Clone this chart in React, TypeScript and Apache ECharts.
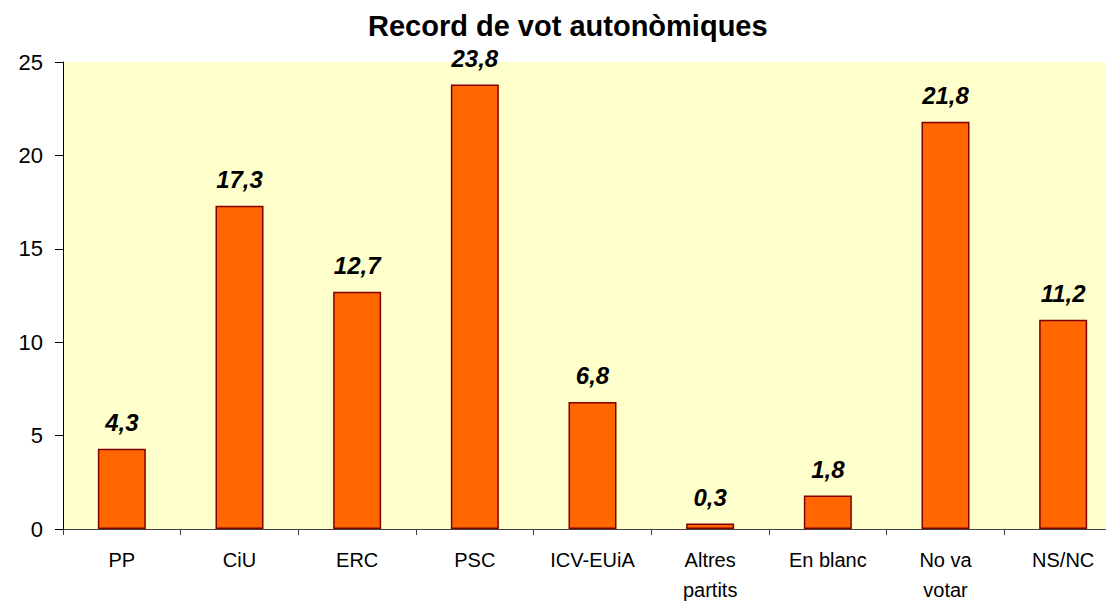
import React, { useEffect, useRef } from "react";
import * as echarts from "echarts";

const title = "Record de vot autonòmiques";
const categories = ["PP", "CiU", "ERC", "PSC", "ICV-EUiA", "Altres\npartits", "En blanc", "No va\nvotar", "NS/NC"];
const values = [4.3, 17.3, 12.7, 23.8, 6.8, 0.3, 1.8, 21.8, 11.2];
const yTicks = { min: 0, max: 25, interval: 5 };

export default function App() {
  const ref = useRef<HTMLDivElement>(null);
  useEffect(() => {
    const chart = echarts.init(ref.current!, null, { renderer: "svg" });
    chart.setOption({
      animation: false,
      backgroundColor: "#ffffff",
      title: {
        text: title,
        left: 363,
        top: 6,
        textStyle: { fontFamily: "Liberation Sans", fontWeight: "bold", fontSize: 29, color: "#000" },
      },
      grid: {
        left: 63,
        top: 62,
        width: 1059,
        height: 467,
        outerBoundsMode: "none",
        containLabel: false,
        show: true,
        backgroundColor: "#FFFFCC",
        borderWidth: 0,
      },
      xAxis: {
        type: "category",
        data: categories,
        axisLine: { lineStyle: { color: "#404040", width: 1 } },
        axisTick: { show: true, length: 6, lineStyle: { color: "#404040" } },
        axisLabel: {
          margin: 16,
          fontFamily: "Liberation Sans",
          fontSize: 20,
          lineHeight: 30,
          color: "#000",
          interval: 0,
        },
      },
      yAxis: {
        type: "value",
        min: yTicks.min,
        max: yTicks.max,
        interval: yTicks.interval,
        splitLine: { show: false },
        axisLine: { show: true, lineStyle: { color: "#000", width: 1 } },
        axisTick: { show: true, length: 8, lineStyle: { color: "#000" } },
        axisLabel: { margin: 20, fontFamily: "Liberation Sans", fontSize: 22, color: "#000" },
      },
      series: [
        {
          type: "bar",
          data: values,
          barWidth: 48,
          itemStyle: { color: "#FF6600", borderColor: "#800000", borderWidth: 1.5 },
          label: {
            show: true,
            position: "top",
            distance: 14,
            fontFamily: "Liberation Sans",
            fontWeight: "bold",
            fontStyle: "italic",
            fontSize: 24,
            color: "#000",
            formatter: (p: any) => String(p.value).replace(".", ","),
          },
        },
      ],
    });
    return () => chart.dispose();
  }, []);
  return <div ref={ref} style={{ position: "fixed", left: 0, top: 0, width: 1106, height: 601 }} />;
}
